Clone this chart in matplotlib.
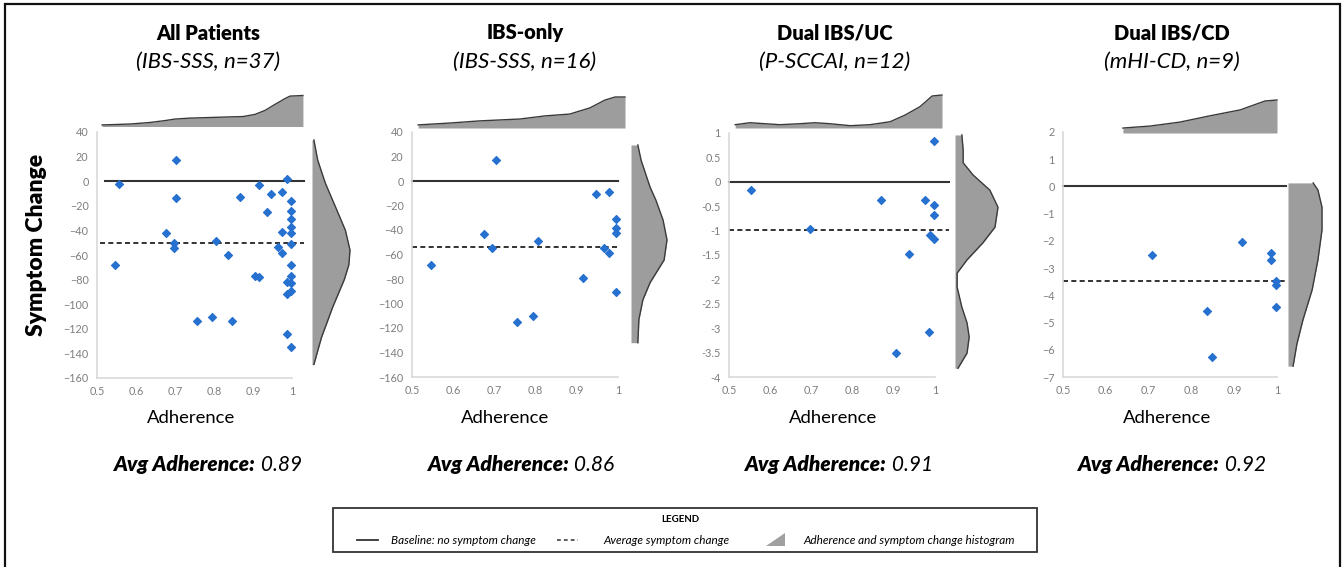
import matplotlib
matplotlib.use("Agg")
import matplotlib.pyplot as plt
import numpy as np
from matplotlib.lines import Line2D

plt.rcParams['font.family'] = ['Lato', 'DejaVu Sans']

W, H = 1343, 567

# ---------------- data ----------------
titles = ["All Patients", "IBS-only", "Dual IBS/UC", "Dual IBS/CD"]
subtitles = ["(IBS-SSS, n=37)", "(IBS-SSS, n=16)", "(P-SCCAI, n=12)", "(mHI-CD, n=9)"]
avg_adherence = ["0.89", "0.86", "0.91", "0.92"]
avg_change = [-50, -53.6, -0.99, -3.46]

p1_x = [0.545, 0.556, 0.703, 0.703, 0.676, 0.697, 0.697, 0.805, 0.757, 0.796,
        0.835, 0.845, 0.866, 0.905, 0.915, 0.915, 0.936, 0.947, 0.964, 0.975,
        0.975, 0.975, 0.986, 0.986, 0.986, 0.986, 0.997, 0.997, 0.997, 0.997,
        0.997, 0.997, 0.997, 0.997, 0.997, 0.997, 0.997]
p1_y = [-68, -2, 17.6, -14, -42.4, -50, -54.6, -48.6, -114, -110,
        -60, -114, -13, -77, -78, -3, -25, -10, -53.5, -8.4,
        -41, -58, 1.6, -82, -92, -124, -16, -24, -31, -37.6,
        -42.4, -51, -68, -77, -83, -89.5, -134.4]

p2_x = [0.547, 0.704, 0.674, 0.694, 0.806, 0.755, 0.794, 0.916, 0.946, 0.977,
        0.967, 0.977, 0.996, 0.996, 0.996, 0.996]
p2_y = [-68.6, 16.8, -43.5, -55, -49, -115, -110.6, -79, -10.5, -9.3,
        -55, -59, -31, -38, -42.7, -90.5]

p3_x = [0.554, 0.696, 0.868, 0.936, 0.905, 0.976, 0.997, 0.997, 0.997, 0.987,
        0.997, 0.986]
p3_y = [-0.164, -0.966, -0.363, -1.48, -3.5, -0.363, 0.83, -0.48, -0.68, -1.08,
        -1.17, -3.07]

p4_x = [0.707, 0.919, 0.837, 0.847, 0.987, 0.987, 0.997, 0.997, 0.997]
p4_y = [-2.53, -2.03, -4.58, -6.27, -2.43, -2.70, -3.49, -3.62, -4.43]

# marginal density outlines (position, relative height)
p1_top_x = [0.513, 0.585, 0.636, 0.674, 0.700, 0.738, 0.790, 0.841, 0.874, 0.905, 0.931, 0.956, 0.982, 0.995, 1.028]
p1_top_h = [0.05, 0.08, 0.13, 0.19, 0.24, 0.27, 0.29, 0.31, 0.32, 0.39, 0.52, 0.71, 0.90, 0.98, 1.0]
p2_top_x = [0.515, 0.592, 0.665, 0.714, 0.762, 0.823, 0.883, 0.932, 0.968, 0.993, 1.017]
p2_top_h = [0.10, 0.16, 0.23, 0.26, 0.29, 0.39, 0.45, 0.65, 0.90, 1.0, 1.0]
p3_top_x = [0.515, 0.551, 0.587, 0.624, 0.672, 0.709, 0.745, 0.794, 0.842, 0.891, 0.927, 0.964, 0.993, 1.017]
p3_top_h = [0.10, 0.16, 0.13, 0.10, 0.13, 0.16, 0.13, 0.07, 0.10, 0.19, 0.39, 0.65, 0.97, 1.0]
p4_top_x = [0.640, 0.703, 0.773, 0.843, 0.914, 0.972, 1.0]
p4_top_h = [0.15, 0.21, 0.33, 0.52, 0.70, 0.97, 1.0]

p1_right_y = [33.5, 17.2, -1.5, -21, -40, -56, -68, -80, -102, -127, -149]
p1_right_w = [0.05, 0.15, 0.35, 0.62, 0.88, 1.0, 0.97, 0.85, 0.55, 0.25, 0.05]
p2_right_y = [29.4, 17, -5, -15.5, -31.8, -48, -64.5, -83, -97, -113, -132]
p2_right_w = [0.19, 0.28, 0.53, 0.69, 0.89, 1.0, 0.92, 0.53, 0.33, 0.22, 0.19]
p3_right_y = [0.96, 0.65, 0.39, 0.14, -0.17, -0.52, -0.93, -1.25, -1.60, -1.87, -2.16, -2.57, -2.89, -3.18, -3.51, -3.82]
p3_right_w = [0.16, 0.19, 0.19, 0.42, 0.81, 1.0, 0.93, 0.65, 0.28, 0.05, 0.05, 0.16, 0.28, 0.33, 0.28, 0.07]
p4_right_y = [0.13, -0.13, -0.76, -1.6, -2.7, -3.8, -4.9, -5.8, -6.6]
p4_right_w = [0.74, 0.88, 1.0, 1.0, 0.88, 0.71, 0.44, 0.26, 0.15]

xs = [p1_x, p2_x, p3_x, p4_x]
ys = [p1_y, p2_y, p3_y, p4_y]
tops = [(p1_top_x, p1_top_h), (p2_top_x, p2_top_h), (p3_top_x, p3_top_h), (p4_top_x, p4_top_h)]
rights = [(p1_right_y, p1_right_w), (p2_right_y, p2_right_w), (p3_right_y, p3_right_w), (p4_right_y, p4_right_w)]

yticks = [np.arange(-160, 41, 20), np.arange(-160, 41, 20), np.arange(-4, 1.01, 0.5), np.arange(-7, 2.01, 1)]
ylims = [(-160, 40), (-160, 40), (-4, 1), (-7, 2)]
xticks = [0.5, 0.6, 0.7, 0.8, 0.9, 1.0]
xticklabels = ["0.5", "0.6", "0.7", "0.8", "0.9", "1"]

# ---------------- layout (pixels) ----------------
main_box = [(97, 292, 132, 378), (412, 618, 132, 377), (729, 935, 133, 377), (1063, 1277, 132, 377)]
top_box = [(126.5, 31), (128, 31), (128, 33), (133, 33)]           # baseline y, height
right_box = [(312, 38), (631, 36), (955, 43), (1288, 34)]           # baseline x, width
base_ext = [(0.04, 1.06), (0.0, 1.0), (0.0, 1.07), (0.0, 1.04)]
mean_ext = [(0.015, 1.06), (0.0, 1.0), (0.0, 1.07), (0.0, 1.04)]
title_cx = [208, 525, 835, 1172]
xlab_cx = [191, 505, 833, 1167]
avg_cx = [208, 521, 839, 1172]

def px_axes(l, r, t, b):
    return fig.add_axes([l / W, 1 - b / H, (r - l) / W, (b - t) / H])

fig = plt.figure(figsize=(W / 100, H / 100), dpi=100)

grey_fill = "#9d9d9d"
edge = "#3a3a3a"
tick_col = "#7f7f7f"
blue = "#2670d0"

for i in range(4):
    l, r, t, b = main_box[i]
    ax = px_axes(l, r, t, b)
    ax.set_xlim(0.5, 1.0)
    ax.set_ylim(*ylims[i])
    ax.set_xticks(xticks)
    ax.set_xticklabels(xticklabels)
    ax.set_yticks(yticks[i])
    if i == 2:
        ax.set_yticklabels([("%g" % v) for v in yticks[i]])
    ax.tick_params(length=0, labelsize=7.8, colors=tick_col, pad=6)
    for s in ["top", "right"]:
        ax.spines[s].set_visible(False)
    for s in ["left", "bottom"]:
        ax.spines[s].set_color("#d9d9d9")
        ax.spines[s].set_linewidth(1.2)
    ax.axhline(0, xmin=base_ext[i][0], xmax=base_ext[i][1], color="#333333", lw=1.5, clip_on=False, zorder=2)
    ax.axhline(avg_change[i], xmin=mean_ext[i][0], xmax=mean_ext[i][1], color="#111111", lw=1.2,
               ls=(0, (3, 2)), clip_on=False, zorder=2)
    ax.scatter(xs[i], ys[i], marker="D", s=17, color=blue, edgecolors=blue, linewidths=0.8,
               zorder=3, clip_on=False)

    # top marginal
    base_y, hh = top_box[i]
    axt = px_axes(l, r, base_y - hh, base_y)
    axt.set_xlim(0.5, 1.0)
    axt.set_ylim(0, 1)
    tx, th = tops[i]
    axt.fill_between(tx, 0, th, color=grey_fill, lw=0, clip_on=False)
    axt.plot(tx, th, color=edge, lw=1.0, clip_on=False)
    axt.axis("off")

    # right marginal
    bx, ww = right_box[i]
    axr = px_axes(bx, bx + ww, t, b)
    axr.set_xlim(0, 1)
    axr.set_ylim(*ylims[i])
    ry, rw = rights[i]
    axr.fill_betweenx(ry, 0, rw, color=grey_fill, lw=0, clip_on=False)
    axr.plot(rw, ry, color=edge, lw=1.0, clip_on=False)
    axr.axis("off")

    # texts
    fig.text(title_cx[i] / W, 1 - 33 / H, titles[i], ha="center", va="center", fontsize=14.5, fontweight="heavy")
    fig.text(title_cx[i] / W, 1 - 62 / H, subtitles[i], ha="center", va="center", fontsize=16, style="italic")
    fig.text(xlab_cx[i] / W, 1 - 418 / H, "Adherence", ha="center", va="center", fontsize=13.3)

# Avg adherence texts (bold italic label + italic value, centred together)
fig.canvas.draw()
rend = fig.canvas.get_renderer()
for i in range(4):
    t1 = fig.text(0, 1 - 465 / H, "Avg Adherence:", ha="left", va="center", fontsize=15,
                  fontweight="heavy", style="italic")
    t2 = fig.text(0, 1 - 465 / H, " " + avg_adherence[i], ha="left", va="center", fontsize=15, style="italic")
    w1 = t1.get_window_extent(rend).width
    w2 = t2.get_window_extent(rend).width
    x0 = avg_cx[i] - (w1 + w2) / 2
    t1.set_x(x0 / W)
    t2.set_x((x0 + w1) / W)

fig.text(37 / W, 1 - 245 / H, "Symptom Change", rotation=90, ha="center", va="center",
         fontsize=16.5, fontweight="heavy")

# outer frame
fig.add_artist(plt.Rectangle((5 / W, -0.01), (1340 - 5) / W, 1 - 4 / H + 0.01, transform=fig.transFigure,
                             fill=False, ec="#111111", lw=1.6))

# legend box
lx0, lx1, ly0, ly1 = 333, 1037, 508, 552
fig.add_artist(plt.Rectangle((lx0 / W, 1 - ly1 / H), (lx1 - lx0) / W, (ly1 - ly0) / H, transform=fig.transFigure,
                             fill=False, ec="#333333", lw=1.3))
fig.text(680 / W, 1 - 519 / H, "LEGEND", ha="center", va="center", fontsize=7, fontweight="bold")
ly = 1 - 540 / H
fig.add_artist(Line2D([357 / W, 378 / W], [ly, ly], transform=fig.transFigure, color="#333333", lw=1.3))
fig.text(391 / W, ly, "Baseline: no symptom change", ha="left", va="center", fontsize=8.5, style="italic")
fig.add_artist(Line2D([557 / W, 578 / W], [ly, ly], transform=fig.transFigure, color="#333333", lw=1.1,
                      ls=(0, (2.5, 2))))
fig.text(603 / W, ly, "Average symptom change", ha="left", va="center", fontsize=8.5, style="italic")
fig.add_artist(plt.Polygon([[766 / W, 1 - 546 / H], [785 / W, 1 - 546 / H], [785 / W, 1 - 533 / H]],
                           closed=True, transform=fig.transFigure, fc="#a0a0a0", ec="none"))
fig.text(803 / W, ly, "Adherence and symptom change histogram", ha="left", va="center", fontsize=8.5,
         style="italic")

fig.savefig("out.png", dpi=100)
